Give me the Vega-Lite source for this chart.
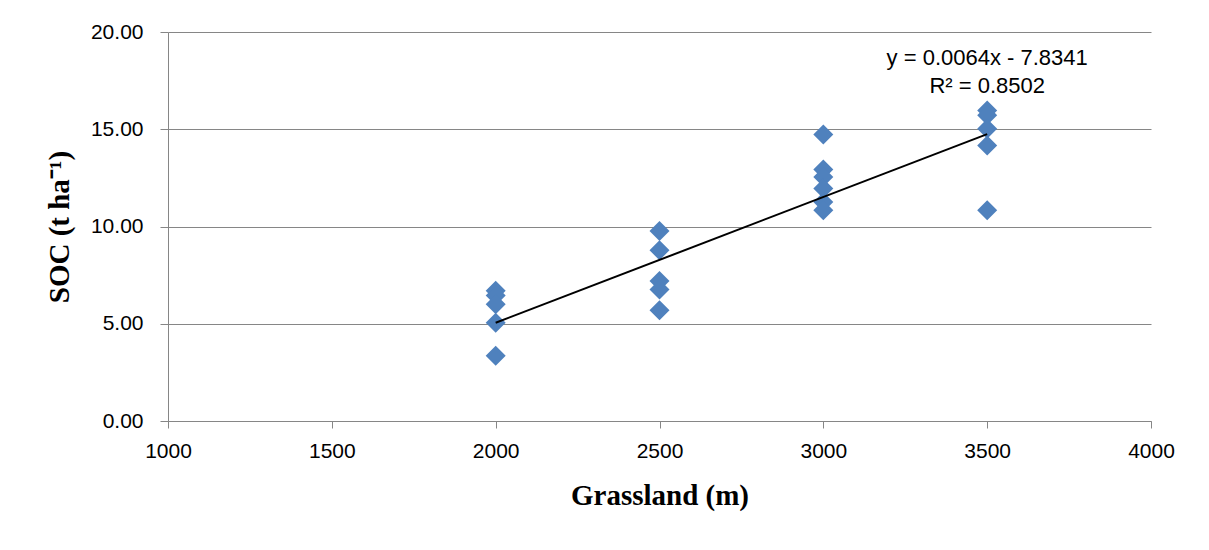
{
  "$schema": "https://vega.github.io/schema/vega-lite/v6.json",
  "autosize": {"type": "none"},
  "width": 983,
  "height": 389,
  "padding": {"left": 168, "top": 32, "right": 58, "bottom": 129},
  "background": "white",
  "config": {
    "view": {"stroke": null},
    "axis": {
      "labelFont": "Liberation Sans",
      "labelFontSize": 21,
      "labelColor": "black",
      "domainColor": "#868686",
      "tickColor": "#868686",
      "gridColor": "#868686",
      "titleFont": "Liberation Serif",
      "titleFontWeight": "bold",
      "titleFontSize": 29,
      "titleColor": "black"
    }
  },
  "datasets": {
    "points": [
      {"elevation": 2000, "soc": 6.7},
      {"elevation": 2000, "soc": 6.45},
      {"elevation": 2000, "soc": 6.0},
      {"elevation": 2000, "soc": 5.05},
      {"elevation": 2000, "soc": 3.35},
      {"elevation": 2500, "soc": 9.77},
      {"elevation": 2500, "soc": 8.78},
      {"elevation": 2500, "soc": 7.2},
      {"elevation": 2500, "soc": 6.76},
      {"elevation": 2500, "soc": 5.69},
      {"elevation": 3000, "soc": 14.73},
      {"elevation": 3000, "soc": 12.93},
      {"elevation": 3000, "soc": 12.55},
      {"elevation": 3000, "soc": 11.95},
      {"elevation": 3000, "soc": 11.26},
      {"elevation": 3000, "soc": 10.83},
      {"elevation": 3500, "soc": 15.97},
      {"elevation": 3500, "soc": 15.72},
      {"elevation": 3500, "soc": 15.03},
      {"elevation": 3500, "soc": 14.17},
      {"elevation": 3500, "soc": 10.83}
    ],
    "trend": [
      {"elevation": 2000, "soc": 5.05},
      {"elevation": 3500, "soc": 14.75}
    ],
    "labels": [
      {"elevation": 3500, "soc": 18.65, "text": "y = 0.0064x - 7.8341"},
      {"elevation": 3500, "soc": 17.2, "text": "R² = 0.8502"}
    ]
  },
  "layer": [
    {
      "data": {"name": "points"},
      "mark": {"type": "point", "shape": "diamond", "filled": true, "size": 400, "color": "#4F81BD", "opacity": 1},
      "encoding": {
        "x": {
          "field": "elevation", "type": "quantitative",
          "scale": {"domain": [1000, 4000], "nice": false},
          "axis": {"title": "Grassland (m)", "values": [1000, 1500, 2000, 2500, 3000, 3500, 4000], "grid": false, "tickSize": 7, "labelPadding": 12, "labelFlush": false, "titlePadding": 20, "format": "d"}
        },
        "y": {
          "field": "soc", "type": "quantitative",
          "scale": {"domain": [0, 20], "nice": false},
          "axis": {"title": "SOC (t ha⁻¹)", "values": [0, 5, 10, 15, 20], "format": ".2f", "tickSize": 8, "labelPadding": 17, "labelFlush": false, "titlePadding": 16}
        }
      }
    },
    {
      "data": {"name": "trend"},
      "mark": {"type": "line", "color": "black", "strokeWidth": 2},
      "encoding": {
        "x": {"field": "elevation", "type": "quantitative"},
        "y": {"field": "soc", "type": "quantitative"}
      }
    },
    {
      "data": {"name": "labels"},
      "mark": {"type": "text", "font": "Liberation Sans", "fontSize": 22, "align": "center", "baseline": "middle", "color": "black"},
      "encoding": {
        "x": {"field": "elevation", "type": "quantitative"},
        "y": {"field": "soc", "type": "quantitative"},
        "text": {"field": "text"}
      }
    }
  ]
}
